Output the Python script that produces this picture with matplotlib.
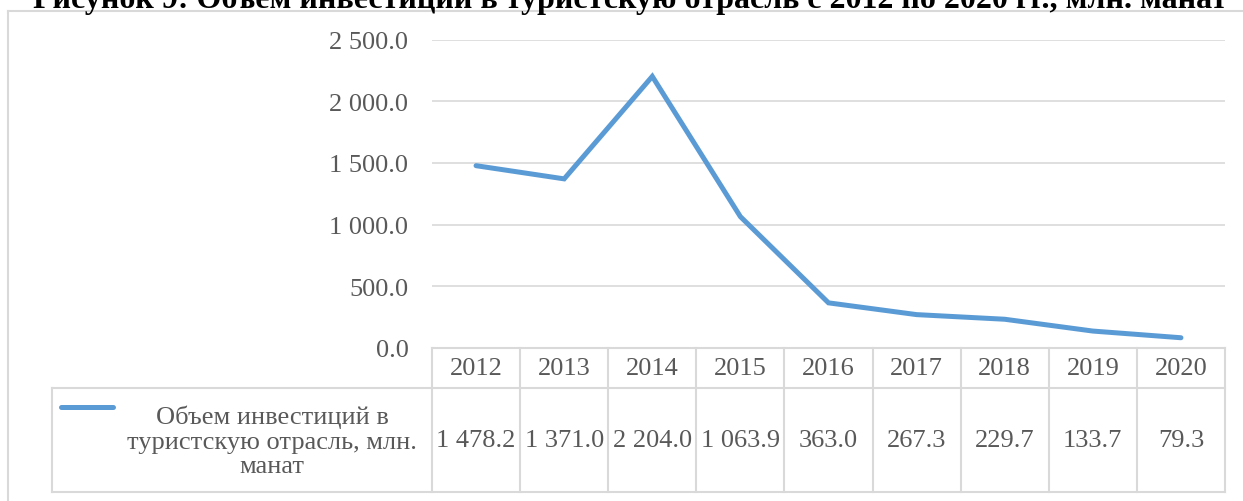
import matplotlib.pyplot as plt
from matplotlib.lines import Line2D

years = ['2012', '2013', '2014', '2015', '2016', '2017', '2018', '2019', '2020']
values = [1478.2, 1371.0, 2204.0, 1063.9, 363.0, 267.3, 229.7, 133.7, 79.3]
value_labels = ['1 478.2', '1 371.0', '2 204.0', '1 063.9', '363.0', '267.3', '229.7', '133.7', '79.3']
y_ticks = [0, 500, 1000, 1500, 2000, 2500]
y_tick_labels = ['0.0', '500.0', '1 000.0', '1 500.0', '2 000.0', '2 500.0']
series_name = 'Объем инвестиций в\nтуристскую отрасль, млн.\nманат'
title = 'Рисунок 9: Объем инвестиций в туристскую отрасль с 2012 по 2020 гг., млн. манат'

W, H = 1243, 502
GRAY = '#595959'
LINE_GRAY = '#d9d9d9'
BLUE = '#5b9bd5'
FONT = ['Liberation Serif', 'DejaVu Serif']

plt.rcParams['font.family'] = FONT


def fx(px):
    return px / W


def fy(py):
    return 1 - py / H


fig = plt.figure(figsize=(W / 100, H / 100), dpi=100)

# plot area
x0, x1 = 432, 1225
y_top, y_zero = 41, 348.5
ax = fig.add_axes([fx(x0), fy(y_zero), fx(x1 - x0), (y_zero - y_top) / H])
ax.plot(range(len(years)), values, color=BLUE, lw=3.6, solid_capstyle='round',
        solid_joinstyle='miter', zorder=3)
ax.set_xlim(-0.5, len(years) - 0.5)
ax.set_ylim(0, 2500)
ax.set_yticks(y_ticks)
ax.set_yticklabels(y_tick_labels, fontsize=19, color=GRAY, family=FONT)
ax.tick_params(axis='y', length=0, pad=17)
ax.set_xticks([])
ax.grid(axis='y', color=LINE_GRAY, lw=1.2)
ax.set_axisbelow(True)
for s in ax.spines.values():
    s.set_visible(False)
ax.patch.set_alpha(0)


# chart border
def hline(y, xa, xb, lw=1.5):
    fig.add_artist(Line2D([fx(xa), fx(xb)], [fy(y), fy(y)], color=LINE_GRAY, lw=lw))


def vline(x, ya, yb, lw=1.5):
    fig.add_artist(Line2D([fx(x), fx(x)], [fy(ya), fy(yb)], color=LINE_GRAY, lw=lw))


hline(12, 8, W)
vline(8, 12, H)

# data table
hdr_top, hdr_bot, row_bot = 349, 389, 493
leg_left = 52
col_w = (x1 - x0) / len(years)
hline(hdr_top, x0, x1)
hline(hdr_bot, leg_left, x1)
hline(row_bot, leg_left, x1)
vline(leg_left, hdr_bot, row_bot)
for i in range(len(years) + 1):
    vline(x0 + i * col_w, hdr_top, row_bot)

for i, (yr, lab) in enumerate(zip(years, value_labels)):
    cx = x0 + (i + 0.5) * col_w
    fig.text(fx(cx), fy((hdr_top + hdr_bot) / 2), yr, ha='center', va='center',
             fontsize=19, color=GRAY, family=FONT)
    fig.text(fx(cx), fy((hdr_bot + row_bot) / 2), lab, ha='center', va='center',
             fontsize=19, color=GRAY, family=FONT)

fig.add_artist(Line2D([fx(61), fx(113)], [fy(408), fy(408)], color=BLUE, lw=3.6,
                      solid_capstyle='round'))
fig.text(fx(272), fy(442), series_name, ha='center', va='center', fontsize=19,
         color=GRAY, linespacing=1.15, family=FONT)

# title, cut off at the top like the source
fig.text(fx(630), fy(8), title, ha='center', va='baseline', fontsize=23,
         fontweight='bold', color='black', family=FONT)

fig.savefig('out.png', dpi=100)
